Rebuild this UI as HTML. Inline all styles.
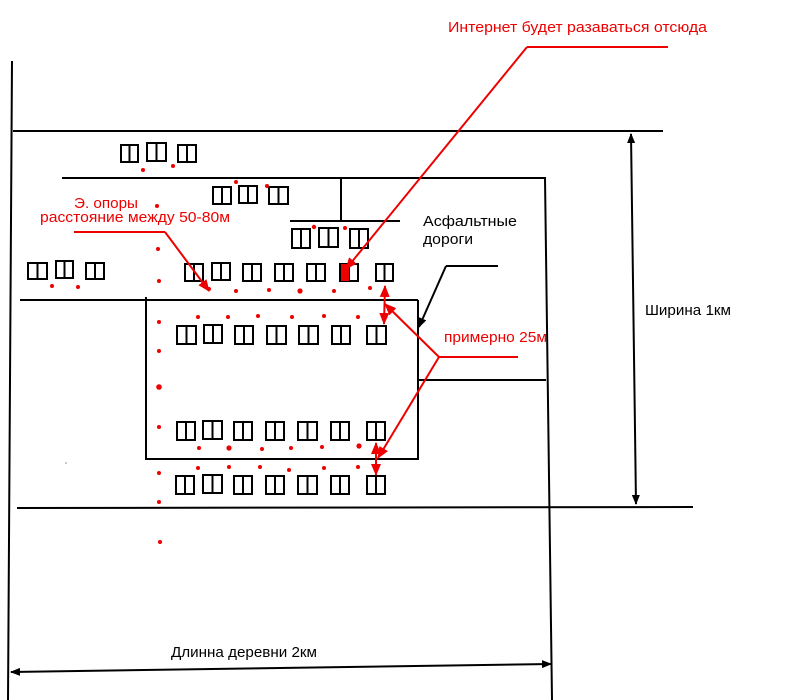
<!DOCTYPE html>
<html><head><meta charset="utf-8">
<style>
html,body{margin:0;padding:0;background:#fff;}
svg{display:block;}
text{font-family:"Liberation Sans","DejaVu Sans",sans-serif;font-size:15px;}
</style></head>
<body>
<svg width="800" height="700" viewBox="0 0 800 700" xmlns="http://www.w3.org/2000/svg">
<defs>
<marker id="ab" markerWidth="10" markerHeight="8" refX="9" refY="4" orient="auto" markerUnits="userSpaceOnUse">
<path d="M0,0 L10,4 L0,8 z" fill="#000"/>
</marker>
<marker id="abs" markerWidth="10" markerHeight="8" refX="1" refY="4" orient="auto" markerUnits="userSpaceOnUse">
<path d="M10,0 L0,4 L10,8 z" fill="#000"/>
</marker>
<marker id="ar" markerWidth="12" markerHeight="10" refX="11" refY="5" orient="auto" markerUnits="userSpaceOnUse">
<path d="M0,0 L12,5 L0,10 z" fill="#ee0000"/>
</marker>
<marker id="ars" markerWidth="12" markerHeight="10" refX="1" refY="5" orient="auto" markerUnits="userSpaceOnUse">
<path d="M12,0 L0,5 L12,10 z" fill="#ee0000"/>
</marker>
</defs>

<!-- black road lines -->
<g stroke="#000" stroke-width="2" fill="none">
<line x1="12" y1="61" x2="8" y2="700"/>
<line x1="13" y1="131" x2="663" y2="131"/>
<line x1="62" y1="178" x2="546" y2="178"/>
<line x1="545" y1="178" x2="552" y2="700"/>
<line x1="341" y1="179" x2="341" y2="221"/>
<line x1="290" y1="221" x2="400" y2="221"/>
<line x1="20" y1="300" x2="418" y2="300"/>
<line x1="146" y1="297" x2="146" y2="460"/>
<line x1="418" y1="300" x2="418" y2="460"/>
<line x1="146" y1="459" x2="418" y2="459"/>
<line x1="418" y1="380" x2="546" y2="380"/>
<line x1="17" y1="508" x2="693" y2="507"/>
<line x1="446" y1="266" x2="498" y2="266"/>
<line x1="446" y1="266" x2="419" y2="327" marker-end="url(#ab)"/>
<line x1="631" y1="134" x2="636" y2="504" marker-start="url(#abs)" marker-end="url(#ab)"/>
<line x1="11" y1="672" x2="551" y2="664" marker-start="url(#abs)" marker-end="url(#ab)"/>
</g>

<!-- houses -->
<g stroke="#000" stroke-width="2" fill="none">
<!-- row 1 -->
<rect x="121" y="145" width="17" height="17"/><line x1="129.5" y1="145" x2="129.5" y2="162"/>
<rect x="147" y="143" width="19" height="18"/><line x1="156.5" y1="143" x2="156.5" y2="161"/>
<rect x="178" y="145" width="18" height="17"/><line x1="187" y1="145" x2="187" y2="162"/>
<!-- row 2 -->
<rect x="213" y="187" width="18" height="17"/><line x1="222" y1="187" x2="222" y2="204"/>
<rect x="239" y="186" width="18" height="17"/><line x1="248" y1="186" x2="248" y2="203"/>
<rect x="269" y="187" width="19" height="17"/><line x1="278.5" y1="187" x2="278.5" y2="204"/>
<!-- row 3 -->
<rect x="292" y="229" width="18" height="19"/><line x1="301" y1="229" x2="301" y2="248"/>
<rect x="319" y="228" width="19" height="19"/><line x1="328.5" y1="228" x2="328.5" y2="247"/>
<rect x="350" y="229" width="18" height="19"/><line x1="359" y1="229" x2="359" y2="248"/>
<!-- row 4 left -->
<rect x="28" y="263" width="19" height="16"/><line x1="37.5" y1="263" x2="37.5" y2="279"/>
<rect x="56" y="261" width="17" height="17"/><line x1="64.5" y1="261" x2="64.5" y2="278"/>
<rect x="86" y="263" width="18" height="16"/><line x1="95" y1="263" x2="95" y2="279"/>
<!-- row 4 right -->
<rect x="185" y="264" width="18" height="17"/><line x1="194" y1="264" x2="194" y2="281"/>
<rect x="212" y="263" width="18" height="17"/><line x1="221" y1="263" x2="221" y2="280"/>
<rect x="243" y="264" width="18" height="17"/><line x1="252" y1="264" x2="252" y2="281"/>
<rect x="275" y="264" width="18" height="17"/><line x1="284" y1="264" x2="284" y2="281"/>
<rect x="307" y="264" width="18" height="17"/><line x1="316" y1="264" x2="316" y2="281"/>
<rect x="340" y="264" width="18" height="17"/><line x1="349" y1="264" x2="349" y2="281"/>
<rect x="376" y="264" width="17" height="17"/><line x1="384.5" y1="264" x2="384.5" y2="281"/>
<!-- row 5 -->
<rect x="177" y="326" width="19" height="18"/><line x1="186.5" y1="326" x2="186.5" y2="344"/>
<rect x="204" y="325" width="18" height="18"/><line x1="213" y1="325" x2="213" y2="343"/>
<rect x="235" y="326" width="18" height="18"/><line x1="244" y1="326" x2="244" y2="344"/>
<rect x="267" y="326" width="19" height="18"/><line x1="276.5" y1="326" x2="276.5" y2="344"/>
<rect x="299" y="326" width="19" height="18"/><line x1="308.5" y1="326" x2="308.5" y2="344"/>
<rect x="332" y="326" width="18" height="18"/><line x1="341" y1="326" x2="341" y2="344"/>
<rect x="367" y="326" width="19" height="18"/><line x1="376.5" y1="326" x2="376.5" y2="344"/>
<!-- row 6 -->
<rect x="177" y="422" width="18" height="18"/><line x1="186" y1="422" x2="186" y2="440"/>
<rect x="203" y="421" width="19" height="18"/><line x1="212.5" y1="421" x2="212.5" y2="439"/>
<rect x="234" y="422" width="18" height="18"/><line x1="243" y1="422" x2="243" y2="440"/>
<rect x="266" y="422" width="18" height="18"/><line x1="275" y1="422" x2="275" y2="440"/>
<rect x="298" y="422" width="19" height="18"/><line x1="307.5" y1="422" x2="307.5" y2="440"/>
<rect x="331" y="422" width="18" height="18"/><line x1="340" y1="422" x2="340" y2="440"/>
<rect x="367" y="422" width="18" height="18"/><line x1="376" y1="422" x2="376" y2="440"/>
<!-- row 7 -->
<rect x="176" y="476" width="18" height="18"/><line x1="185" y1="476" x2="185" y2="494"/>
<rect x="203" y="475" width="19" height="18"/><line x1="212.5" y1="475" x2="212.5" y2="493"/>
<rect x="234" y="476" width="18" height="18"/><line x1="243" y1="476" x2="243" y2="494"/>
<rect x="266" y="476" width="18" height="18"/><line x1="275" y1="476" x2="275" y2="494"/>
<rect x="298" y="476" width="19" height="18"/><line x1="307.5" y1="476" x2="307.5" y2="494"/>
<rect x="331" y="476" width="18" height="18"/><line x1="340" y1="476" x2="340" y2="494"/>
<rect x="367" y="476" width="18" height="18"/><line x1="376" y1="476" x2="376" y2="494"/>
</g>
<rect x="341" y="264" width="8" height="17" fill="#ee0000"/>

<!-- red dots -->
<g fill="#ee0000">
<circle cx="143" cy="170" r="2"/><circle cx="173" cy="166" r="2"/>
<circle cx="236" cy="182" r="2"/><circle cx="267" cy="186" r="2"/>
<circle cx="157" cy="206" r="2"/>
<circle cx="314" cy="227" r="2.2"/><circle cx="345" cy="228" r="2"/>
<circle cx="158" cy="249" r="2"/>
<circle cx="52" cy="286" r="2"/><circle cx="78" cy="287" r="2"/>
<circle cx="159" cy="281" r="2"/>
<circle cx="209" cy="289" r="2"/><circle cx="236" cy="291" r="2"/><circle cx="269" cy="290" r="2"/>
<circle cx="300" cy="291" r="2.6"/><circle cx="334" cy="291" r="2"/><circle cx="370" cy="288" r="2"/>
<circle cx="159" cy="322" r="2"/><circle cx="159" cy="351" r="2"/><circle cx="159" cy="387" r="2.8"/>
<circle cx="159" cy="427" r="2"/><circle cx="159" cy="473" r="2"/><circle cx="159" cy="502" r="2"/>
<circle cx="160" cy="542" r="2"/>
<circle cx="198" cy="317" r="2"/><circle cx="228" cy="317" r="2"/><circle cx="258" cy="316" r="2"/>
<circle cx="292" cy="317" r="2"/><circle cx="324" cy="316" r="2"/><circle cx="358" cy="317" r="2"/>
<circle cx="199" cy="448" r="2"/><circle cx="229" cy="448" r="2.6"/><circle cx="262" cy="449" r="2"/>
<circle cx="291" cy="448" r="2"/><circle cx="322" cy="447" r="2"/><circle cx="359" cy="446" r="2.6"/>
<circle cx="198" cy="468" r="2"/><circle cx="229" cy="467" r="2"/><circle cx="260" cy="467" r="2"/>
<circle cx="289" cy="470" r="2"/><circle cx="324" cy="468" r="2"/><circle cx="358" cy="467" r="2"/>
</g>
<circle cx="66" cy="463" r="0.8" fill="#888"/>

<!-- red connectors -->
<g stroke="#ee0000" stroke-width="2" fill="none">
<line x1="527" y1="47" x2="668" y2="47"/>
<line x1="527" y1="47" x2="346" y2="269" marker-end="url(#ar)"/>
<line x1="74" y1="232" x2="165" y2="232"/>
<line x1="165" y1="232" x2="209" y2="291" marker-end="url(#ar)"/>
<line x1="439" y1="357" x2="518" y2="357"/>
<line x1="439" y1="357" x2="385" y2="304" marker-end="url(#ar)"/>
<line x1="439" y1="357" x2="378" y2="458" marker-end="url(#ar)"/>
<line x1="385" y1="286" x2="384" y2="324" marker-start="url(#ars)" marker-end="url(#ar)"/>
<line x1="376" y1="443" x2="376" y2="475" marker-start="url(#ars)" marker-end="url(#ar)"/>
</g>

<!-- text -->
<text x="448" y="32" fill="#ee0000" textLength="259" lengthAdjust="spacingAndGlyphs">Интернет будет разаваться отсюда</text>
<text x="74" y="208" fill="#ee0000" textLength="64" lengthAdjust="spacingAndGlyphs">Э. опоры</text>
<text x="40" y="222" fill="#ee0000" textLength="190" lengthAdjust="spacingAndGlyphs">расстояние между 50-80м</text>
<text x="444" y="342" fill="#ee0000" textLength="103" lengthAdjust="spacingAndGlyphs">примерно 25м</text>
<text x="423" y="226" fill="#000" textLength="94" lengthAdjust="spacingAndGlyphs">Асфальтные</text>
<text x="423" y="244" fill="#000" textLength="50" lengthAdjust="spacingAndGlyphs">дороги</text>
<text x="645" y="315" fill="#000" textLength="86" lengthAdjust="spacingAndGlyphs">Ширина 1км</text>
<text x="171" y="657" fill="#000" textLength="146" lengthAdjust="spacingAndGlyphs">Длинна деревни 2км</text>
</svg>
</body></html>
